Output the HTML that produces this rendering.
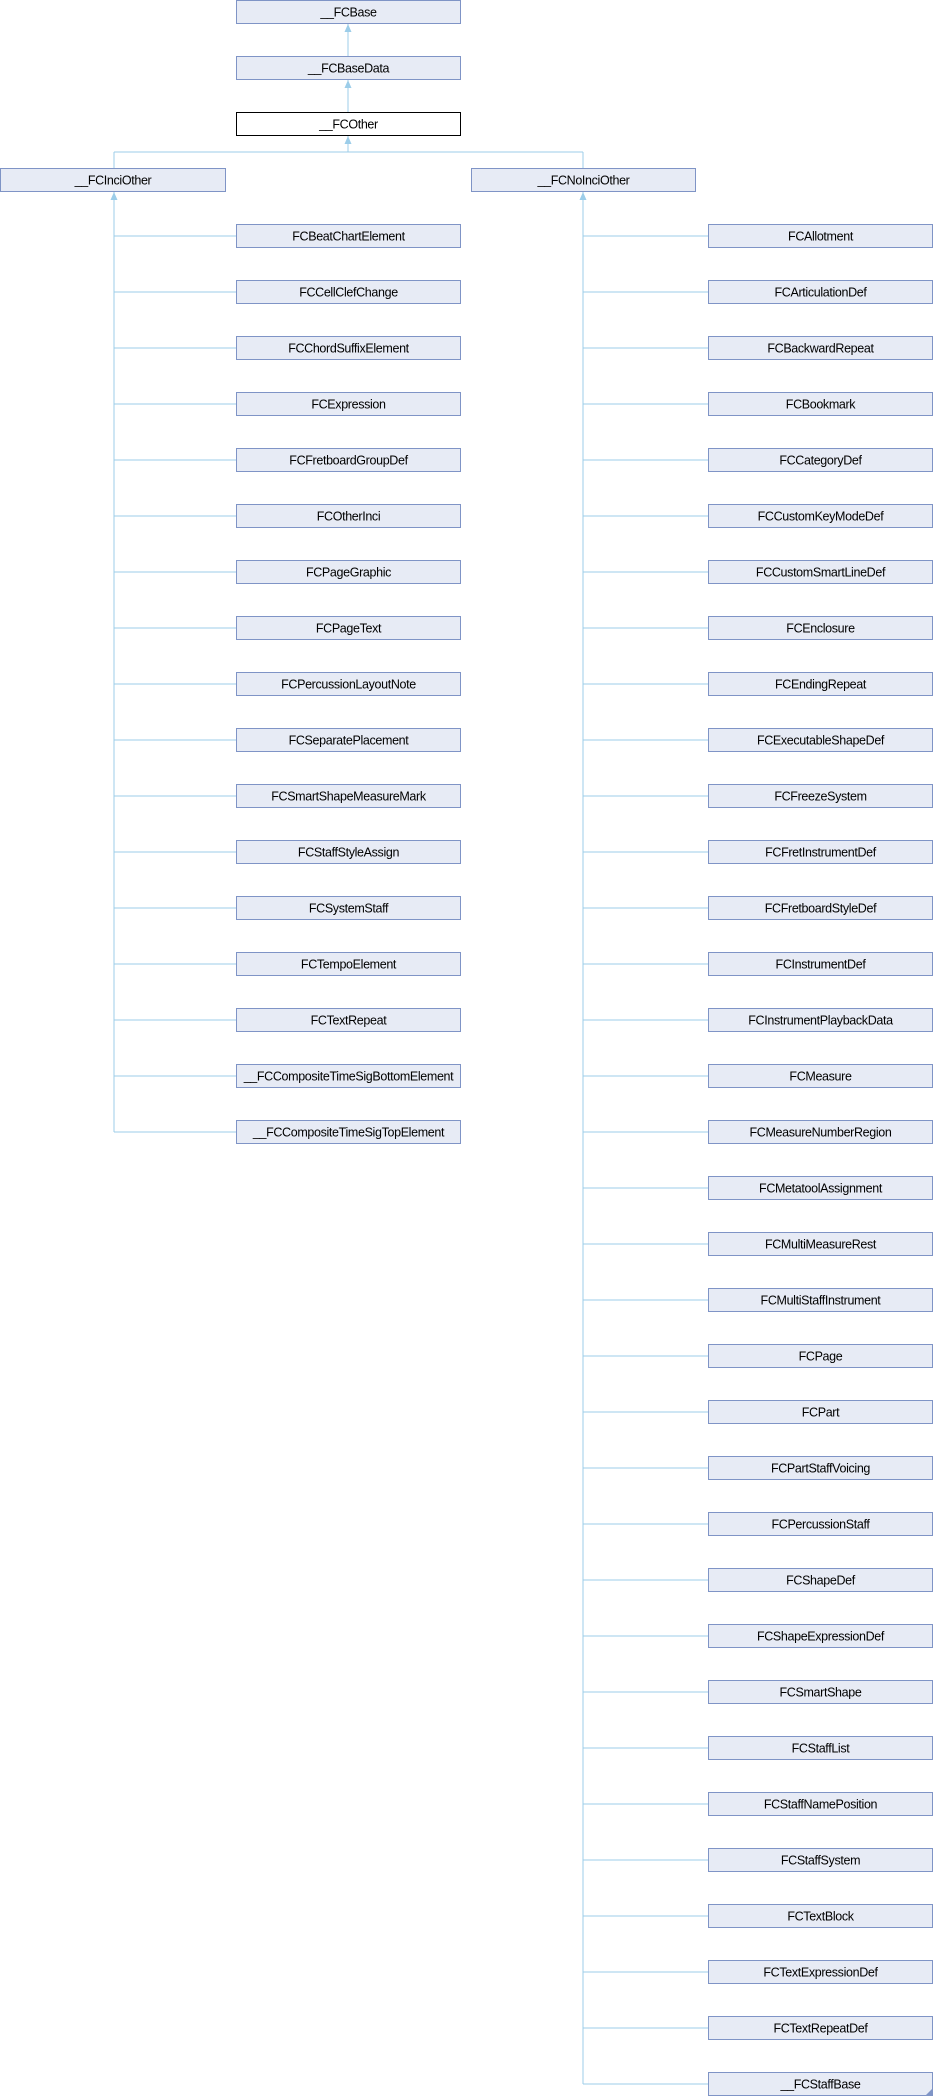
<!DOCTYPE html>
<html><head><meta charset="utf-8"><style>
html,body{margin:0;padding:0;background:#fff;}
svg{display:block;}
text{font-family:"Liberation Sans",sans-serif;font-size:12.5px;fill:#000;letter-spacing:-0.35px;}
</style></head><body>
<svg xmlns="http://www.w3.org/2000/svg" width="934" height="2096" viewBox="0 0 934 2096">
<g id="g"></g>
</svg>
<script>
const NS="http://www.w3.org/2000/svg";
const g=document.getElementById("g");
function el(t,a,txt){const e=document.createElementNS(NS,t);for(const k in a)e.setAttribute(k,a[k]);if(txt)e.textContent=txt;g.appendChild(e);return e;}
const LC="#9ccde9";
function line(x1,y1,x2,y2){el("line",{x1,y1,x2,y2,stroke:LC,"stroke-width":1});}
function arrow(x,y){el("polygon",{points:`${x},${y} ${x-3.5},${y+8} ${x+3.5},${y+8}`,fill:LC});}
function box(x,y,w,label,black){
 el("rect",{x:x+0.5,y:y+0.5,width:w-1,height:23,fill:black?"#fff":"#e7ebf5",stroke:black?"#000":"#7f94c6","stroke-width":1});
 el("text",{x:x+w/2,y:y+16.5,"text-anchor":"middle"},label);
}
const H=56;
line(348,24,348,56);arrow(348,24);
line(348,80,348,112);arrow(348,80);
line(348,136,348,152);arrow(348,136);
line(114,152,583,152);line(114,152,114,168);line(583,152,583,168);
box(236,0,225,"__FCBase");
box(236,56,225,"__FCBaseData");
box(236,112,225,"__FCOther",true);
box(0,168,226,"__FCInciOther");
box(471,168,225,"__FCNoInciOther");
const L=["FCBeatChartElement","FCCellClefChange","FCChordSuffixElement","FCExpression","FCFretboardGroupDef","FCOtherInci","FCPageGraphic","FCPageText","FCPercussionLayoutNote","FCSeparatePlacement","FCSmartShapeMeasureMark","FCStaffStyleAssign","FCSystemStaff","FCTempoElement","FCTextRepeat","__FCCompositeTimeSigBottomElement","__FCCompositeTimeSigTopElement"];
const R=["FCAllotment","FCArticulationDef","FCBackwardRepeat","FCBookmark","FCCategoryDef","FCCustomKeyModeDef","FCCustomSmartLineDef","FCEnclosure","FCEndingRepeat","FCExecutableShapeDef","FCFreezeSystem","FCFretInstrumentDef","FCFretboardStyleDef","FCInstrumentDef","FCInstrumentPlaybackData","FCMeasure","FCMeasureNumberRegion","FCMetatoolAssignment","FCMultiMeasureRest","FCMultiStaffInstrument","FCPage","FCPart","FCPartStaffVoicing","FCPercussionStaff","FCShapeDef","FCShapeExpressionDef","FCSmartShape","FCStaffList","FCStaffNamePosition","FCStaffSystem","FCTextBlock","FCTextExpressionDef","FCTextRepeatDef","__FCStaffBase"];
line(114,192,114,(L.length+3)*H+12);arrow(114,192);
L.forEach((n,i)=>{const y=(i+4)*H;line(114,y+12,236,y+12);box(236,y,225,n);});
line(583,192,583,(R.length+3)*H+12);arrow(583,192);
R.forEach((n,i)=>{const y=(i+4)*H;line(583,y+12,708,y+12);box(708,y,225,n);});
el("polygon",{points:"933,2088 933,2096 925,2096",fill:"#7f94c6"});
</script>
</body></html>
